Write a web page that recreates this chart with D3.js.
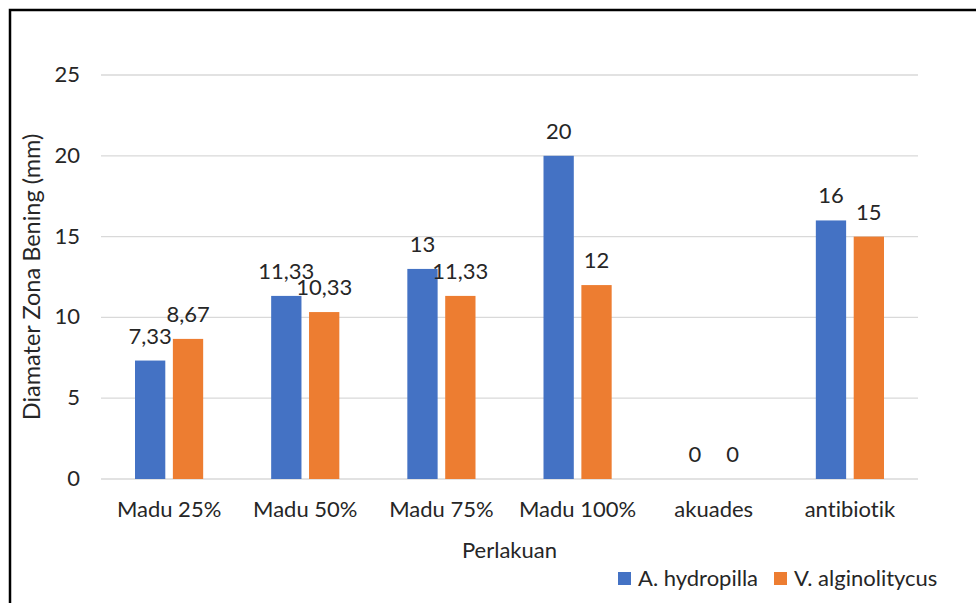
<!DOCTYPE html>
<html lang="id">
  <head>
    <meta charset="UTF-8" />
    <title>Diamater Zona Bening</title>
    <style>
      body { margin: 0; background: #fff; }
      text { font-family: Lato, "Open Sans", sans-serif; fill: #262626; font-variant-ligatures: none; }
    </style>
  </head>
  <body>
    <svg id="container" width="976" height="603"></svg>
  </body>
  <script src="https://cdn.jsdelivr.net/npm/d3@7"></script>
  <script>
    let categories = ["Madu 25%", "Madu 50%", "Madu 75%", "Madu 100%", "akuades", "antibiotik"];
    let seriesNames = ["A. hydropilla", "V. alginolitycus"];
    let hydropilla = [7.33, 11.33, 13, 20, 0, 16];
    let alginolitycus = [8.67, 10.33, 11.33, 12, 0, 15];
    let yTicks = [0, 5, 10, 15, 20, 25];
    let colors = ["#4472C4", "#ED7D31"];

    let svg = d3.select("#container");
    let fontSize = 22;

    // chart frame
    svg.append("rect").attr("x", 10).attr("y", 10).attr("width", 980).attr("height", 610)
      .attr("fill", "none").attr("stroke", "#000").attr("stroke-width", 2.5);

    let x0 = d3.scaleBand().domain(categories).range([101, 918]);
    let x1 = d3.scaleBand().domain(seriesNames).range([34, x0.bandwidth() - 34]).paddingInner(0.2);
    let y = d3.scaleLinear().domain([0, 25]).range([479, 75]);

    // gridlines
    svg.append("g").selectAll("line").data(yTicks).enter().append("line")
      .attr("x1", 101).attr("x2", 918)
      .attr("y1", d => y(d)).attr("y2", d => y(d))
      .attr("stroke", "#d9d9d9").attr("stroke-width", 1.3);

    // y tick labels
    svg.append("g").selectAll("text").data(yTicks).enter().append("text")
      .attr("x", 80).attr("y", d => y(d) + 7)
      .attr("text-anchor", "end").attr("font-size", fontSize)
      .text(d => d);

    // bars
    let rows = categories.map((c, i) => ({ cat: c, values: [hydropilla[i], alginolitycus[i]] }));
    let group = svg.append("g").selectAll("g").data(rows).enter().append("g")
      .attr("transform", d => `translate(${x0(d.cat)},0)`);

    let bars = group.selectAll("g").data(d => d.values.map((v, j) => ({ name: seriesNames[j], value: v, color: colors[j] })))
      .enter().append("g");

    bars.append("rect")
      .attr("x", d => x1(d.name)).attr("width", x1.bandwidth())
      .attr("y", d => y(d.value)).attr("height", d => y(0) - y(d.value))
      .attr("fill", d => d.color);

    bars.append("text")
      .attr("x", d => x1(d.name) + x1.bandwidth() / 2)
      .attr("y", d => y(d.value) - 17)
      .attr("text-anchor", "middle").attr("font-size", fontSize)
      .text(d => String(d.value).replace(".", ","));

    // x category labels
    svg.append("g").selectAll("text").data(categories).enter().append("text")
      .attr("x", d => x0(d) + x0.bandwidth() / 2).attr("y", 517)
      .attr("text-anchor", "middle").attr("font-size", fontSize)
      .text(d => d);

    // axis titles
    svg.append("text").attr("x", (101 + 918) / 2).attr("y", 558)
      .attr("text-anchor", "middle").attr("font-size", fontSize)
      .text("Perlakuan");

    svg.append("text").attr("transform", `translate(40,${(75 + 479) / 2}) rotate(-90)`)
      .attr("text-anchor", "middle").attr("font-size", 23.5)
      .text("Diamater Zona Bening (mm)");

    // legend
    let legendX = [618, 774];
    let legend = svg.append("g").selectAll("g").data(seriesNames).enter().append("g")
      .attr("transform", (d, i) => `translate(${legendX[i]},572)`);
    legend.append("rect").attr("width", 13).attr("height", 13).attr("fill", (d, i) => colors[i]);
    legend.append("text").attr("x", 20).attr("y", 14).attr("font-size", fontSize).text(d => d);
  </script>
</html>
